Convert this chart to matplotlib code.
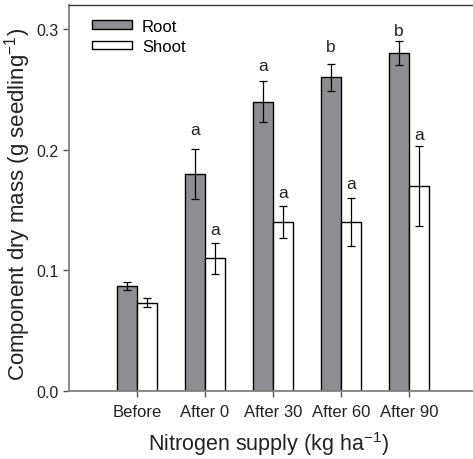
import matplotlib
matplotlib.use("Agg")
import matplotlib.pyplot as plt
import numpy as np

plt.rcParams['font.family'] = ['Liberation Sans', 'DejaVu Sans']
plt.rcParams['mathtext.fontset'] = 'custom'
plt.rcParams['mathtext.rm'] = 'Liberation Sans'

# data
groups = ["Before", "After 0", "After 30", "After 60", "After 90"]
root = [0.087, 0.180, 0.240, 0.260, 0.280]
root_err = [0.003, 0.021, 0.017, 0.011, 0.010]
shoot = [0.073, 0.110, 0.140, 0.140, 0.170]
shoot_err = [0.0037, 0.013, 0.013, 0.020, 0.033]
# significance letters (empty for "Before") and their baseline heights
root_letters = ["", "a", "a", "b", "b"]
root_letter_y = [0, 0.213, 0.266, 0.2816, 0.2954]
shoot_letters = ["", "a", "a", "a", "a"]
shoot_letter_y = [0, 0.130, 0.161, 0.168, 0.209]

x = np.arange(len(groups))
w = 0.3
spine_col = "#808080"

fig = plt.figure(figsize=(4.73, 4.60), dpi=100)
ax = fig.add_axes([69 / 473, 68 / 460, 408 / 473, 386 / 460])

ax.bar(x - w / 2, root, w, color="#8e8e92", edgecolor="black", linewidth=1.0,
       label="Root", zorder=2)
ax.bar(x + w / 2, shoot, w, color="white", edgecolor="black", linewidth=1.0,
       label="Shoot", zorder=2)
ax.errorbar(x - w / 2, root, yerr=root_err, fmt="none", ecolor="black",
            elinewidth=0.9, capsize=3, capthick=0.9, zorder=3)
ax.errorbar(x + w / 2, shoot, yerr=shoot_err, fmt="none", ecolor="black",
            elinewidth=0.9, capsize=3, capthick=0.9, zorder=3)

for i in range(len(groups)):
    if root_letters[i]:
        ax.text(x[i] - w / 2, root_letter_y[i], root_letters[i], ha="center",
                va="baseline", fontsize=12.5, color="#222222")
    if shoot_letters[i]:
        ax.text(x[i] + w / 2, shoot_letter_y[i], shoot_letters[i], ha="center",
                va="baseline", fontsize=12.5, color="#222222")

ax.set_xlim(-1.0, 5.0)
ax.set_ylim(0, 0.32)
ax.set_xticks(x)
ax.set_xticklabels(groups)
ax.set_yticks([0.0, 0.1, 0.2, 0.3])
ax.set_yticklabels(["0.0", "0.1", "0.2", "0.3"])
ax.tick_params(axis="both", direction="out", length=4.5, width=1.0,
               color="#555555", pad=3, labelcolor="#222222")
ax.tick_params(axis="y", labelsize=11.5)
ax.tick_params(axis="x", labelsize=12, pad=5)

for side in ["left", "bottom", "top"]:
    ax.spines[side].set_color(spine_col)
    ax.spines[side].set_linewidth(1.3)
ax.spines["top"].set_color("#333333")
ax.spines["top"].set_linewidth(1.0)
ax.spines["right"].set_visible(False)

ax.set_xlabel("Nitrogen supply (kg ha$^{-1}$)", fontsize=15.5, labelpad=7,
              color="#222222", x=0.488)
ax.set_ylabel("Component dry mass (g seedling$^{-1}$)", fontsize=16,
              color="#222222")
ax.yaxis.set_label_coords(-0.088, 0.486)

ax.legend(loc="upper left", bbox_to_anchor=(0.056, 0.965), frameon=False,
          fontsize=12, handlelength=2.4, handleheight=0.42, handletextpad=0.6,
          labelspacing=0.32, borderpad=0, borderaxespad=0)

fig.savefig("out.png", dpi=100)
